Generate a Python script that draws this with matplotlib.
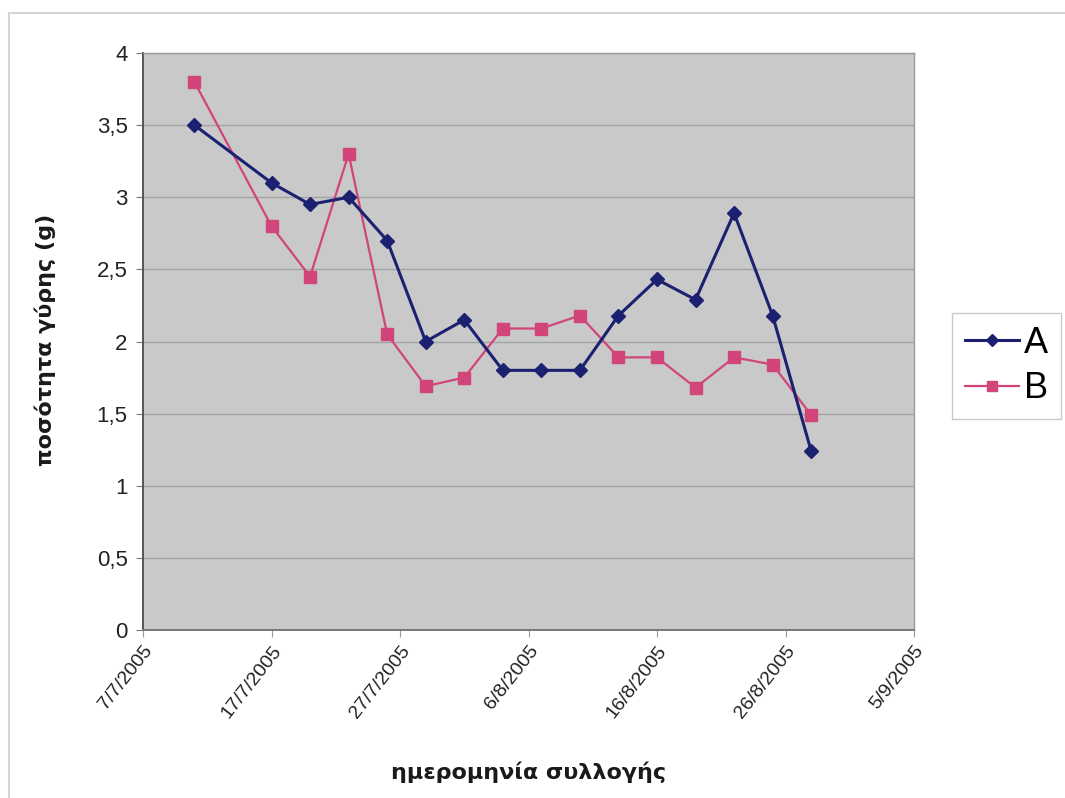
import datetime as dt
import matplotlib
matplotlib.use("Agg")
import matplotlib.pyplot as plt
import matplotlib.dates as mdates
from matplotlib.patches import Rectangle
from matplotlib.ticker import FuncFormatter, MultipleLocator

# Collection dates (day, month) in 2005
dates = [(11, 7), (17, 7), (20, 7), (23, 7), (26, 7), (29, 7), (1, 8), (4, 8),
         (7, 8), (10, 8), (13, 8), (16, 8), (19, 8), (22, 8), (25, 8), (28, 8)]
# Pollen amount (g) per collection
series_a = [3.5, 3.1, 2.95, 3.0, 2.7, 2.0, 2.15, 1.8, 1.8, 1.8, 2.18, 2.43,
            2.29, 2.89, 2.18, 1.24]
series_b = [3.8, 2.8, 2.45, 3.3, 2.05, 1.69, 1.75, 2.09, 2.09, 2.18, 1.89,
            1.89, 1.68, 1.89, 1.84, 1.49]
series_names = ["A", "B"]
y_label = "ποσότητα γύρης (g)"
x_label = "ημερομηνία συλλογής"

x = [dt.date(2005, m, d) for d, m in dates]

fig = plt.figure(figsize=(10.65, 7.98), dpi=100)
fig.patch.set_facecolor("white")

# outer chart frame
fig.patches.append(Rectangle((9 / 1065, -0.05), 1.2, 1 - 13 / 798 + 0.05,
                             transform=fig.transFigure, fill=False,
                             edgecolor="#d4d4d4", linewidth=1.5))

ax = fig.add_axes([143 / 1065, 1 - 630 / 798, (914 - 143) / 1065, (630 - 53) / 798])
ax.set_facecolor("#c9c9c9")

navy = "#1b2170"
pink = "#d2457a"
ax.plot(x, series_a, color=navy, lw=2.2, marker="D", ms=7.5, mfc=navy, mec=navy,
        label=series_names[0], zorder=4)
ax.plot(x, series_b, color=pink, lw=1.6, marker="s", ms=9, mfc=pink, mec=pink,
        label=series_names[1], zorder=3)

ax.set_ylim(0, 4)
ax.yaxis.set_major_locator(MultipleLocator(0.5))
ax.yaxis.set_major_formatter(FuncFormatter(
    lambda v, p: ("%g" % v).replace(".", ",")))

ax.set_xlim(dt.date(2005, 7, 7), dt.date(2005, 9, 5))
ticks = [dt.date(2005, 7, 7) + dt.timedelta(days=10 * i) for i in range(7)]
ax.set_xticks(ticks)
ax.xaxis.set_major_formatter(FuncFormatter(
    lambda v, p: "{0.day}/{0.month}/{0.year}".format(mdates.num2date(v))))

ax.grid(axis="y", color="#a3a3a3", lw=1.0)
ax.set_axisbelow(True)

for side in ["top", "right"]:
    ax.spines[side].set_color("#9a9a9a")
    ax.spines[side].set_linewidth(1.0)
ax.spines["left"].set_color("#555555")
ax.spines["left"].set_linewidth(1.4)
ax.spines["bottom"].set_color("#777777")
ax.spines["bottom"].set_linewidth(1.4)

ax.tick_params(axis="y", direction="out", length=5, color="#777777",
               labelsize=16, labelcolor="#222222", pad=6)
ax.tick_params(axis="x", direction="out", length=5, color="#999999",
               labelsize=14, labelcolor="#222222", pad=4)
for lab in ax.get_yticklabels():
    lab.set_fontfamily("Liberation Sans")
for lab in ax.get_xticklabels():
    lab.set_fontfamily("Liberation Sans")
    lab.set_rotation(52)
    lab.set_ha("right")
    lab.set_va("top")
    lab.set_rotation_mode("anchor")

fig.text(45 / 1065, 1 - 340 / 798, y_label, rotation=90, ha="center",
         va="center", fontsize=16, fontweight="bold", family="DejaVu Sans",
         color="#1a1a1a")
fig.text(529 / 1065, 1 - 772 / 798, x_label, ha="center", va="center",
         fontsize=16, fontweight="bold", family="DejaVu Sans", color="#1a1a1a")

leg = ax.legend(loc="center left", bbox_to_anchor=(952 / 1065, 1 - 366 / 798),
                bbox_transform=fig.transFigure, frameon=True, fancybox=False,
                prop={"family": "Liberation Sans", "size": 26},
                handlelength=1.5, handletextpad=0.15, borderpad=0.35,
                labelspacing=0.3, borderaxespad=0, markerscale=0.85)
leg.get_frame().set_edgecolor("#bdbdbd")
leg.get_frame().set_linewidth(1.0)

fig.savefig("out.png", dpi=100)
